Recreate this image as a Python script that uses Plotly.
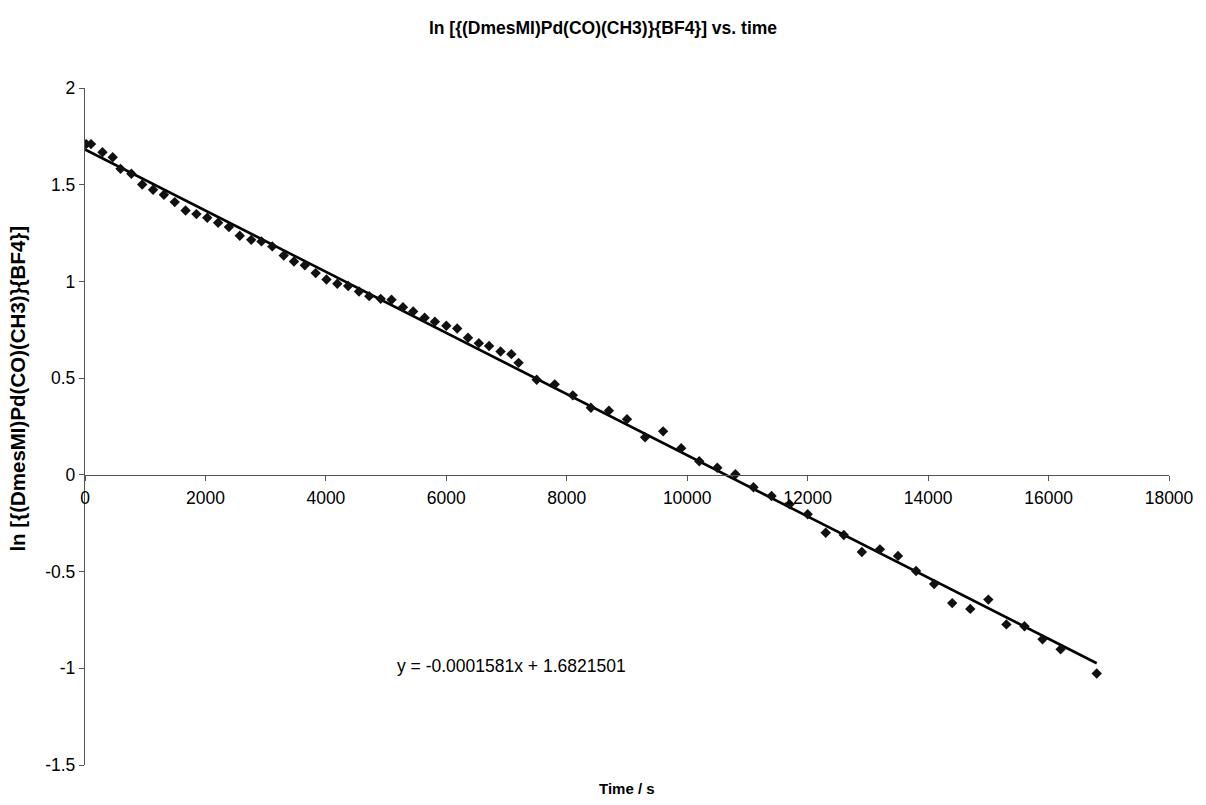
import plotly.graph_objects as go
import numpy as np

# ---- data ----
time_s = [20, 100, 290, 460, 590, 770, 950, 1130, 1310, 1490, 1670, 1850, 2030, 2210,
          2390, 2570, 2760, 2930, 3110, 3300, 3470, 3650, 3830, 4010, 4190, 4370, 4550,
          4720, 4910, 5090, 5280, 5450, 5640, 5810, 6000, 6180, 6360, 6540, 6710, 6900,
          7080, 7200, 7500, 7800, 8100, 8400, 8700, 9000, 9300, 9600, 9900, 10200, 10500,
          10800, 11100, 11400, 11700, 12000, 12300, 12600, 12900, 13200, 13500, 13800,
          14100, 14400, 14700, 15000, 15300, 15600, 15900, 16200, 16800]
ln_conc = [1.71, 1.71, 1.668, 1.642, 1.582, 1.557, 1.501, 1.474, 1.448, 1.41, 1.367, 1.348,
           1.329, 1.303, 1.281, 1.236, 1.215, 1.207, 1.181, 1.134, 1.103, 1.083, 1.043, 1.01,
           0.988, 0.976, 0.948, 0.924, 0.910, 0.905, 0.867, 0.845, 0.812, 0.792, 0.771, 0.757,
           0.709, 0.681, 0.666, 0.638, 0.624, 0.579, 0.492, 0.468, 0.411, 0.347, 0.332, 0.288,
           0.194, 0.225, 0.138, 0.070, 0.037, 0.003, -0.064, -0.109, -0.152, -0.204, -0.299,
           -0.311, -0.399, -0.385, -0.419, -0.497, -0.564, -0.663, -0.693, -0.645, -0.773,
           -0.783, -0.850, -0.902, -1.027]

fit_slope = -0.0001581
fit_intercept = 1.6821501

x_tick_vals = [0, 2000, 4000, 6000, 8000, 10000, 12000, 14000, 16000, 18000]
x_tick_text = ["0", "2000", "4000", "6000", "8000", "10000", "12000", "14000", "16000", "18000"]
y_tick_vals = [-1.5, -1, -0.5, 0, 0.5, 1, 1.5, 2]
y_tick_text = ["-1.5", "-1", "-0.5", "0", "0.5", "1", "1.5", "2"]

title_text = "ln [{(DmesMI)Pd(CO)(CH3)}{BF4}] vs. time"
y_title = "ln [{(DmesMI)Pd(CO)(CH3)}{BF4}]"
x_title = "Time / s"
eq_text = "y = -0.0001581x + 1.6821501"

FONT = "Liberation Sans, Arial, sans-serif"

fit_x = np.array([0, max(time_s)])
fit_y = fit_slope * fit_x + fit_intercept

fig = go.Figure()
fig.add_trace(go.Scatter(x=fit_x, y=fit_y, mode="lines",
                         line=dict(color="black", width=2.6), showlegend=False))
fig.add_trace(go.Scatter(x=time_s, y=ln_conc, mode="markers",
                         marker=dict(symbol="diamond", size=8, color="#111111",
                                     line=dict(width=0)), showlegend=False))

ymin, ymax = -1.5, 2.0
fig.update_layout(
    width=1206, height=805,
    margin=dict(l=85, r=28, t=88, b=40),
    paper_bgcolor="white", plot_bgcolor="white",
    font=dict(family=FONT, size=17.5, color="black"),
    xaxis=dict(range=[0, 18000], tickvals=x_tick_vals, ticktext=x_tick_text,
               showgrid=False, zeroline=False, showline=True, linecolor="#555555",
               linewidth=1.3, ticks="outside", ticklen=5, tickcolor="#555555",
               anchor="free", position=(0 - ymin) / (ymax - ymin),
               ticklabelstandoff=2, ticklabeloverflow="allow",
               tickfont=dict(size=17.5)),
    yaxis=dict(range=[ymin, ymax], tickvals=y_tick_vals, ticktext=y_tick_text,
               showgrid=False, zeroline=False, showline=True, linecolor="#555555",
               linewidth=1.3, ticks="outside", ticklen=5, tickcolor="#555555",
               tickfont=dict(size=17.5)),
    title=dict(text="<b>" + title_text + "</b>", x=0.5, xanchor="center",
               y=1 - 28 / 805, yanchor="middle", font=dict(size=17.5)),
    annotations=[
        dict(text="<b>" + x_title + "</b>", xref="paper", yref="paper", x=0.5, y=0,
             xanchor="center", yanchor="middle", yshift=-23,
             showarrow=False, font=dict(size=15)),
        dict(text="<b>" + y_title + "</b>", xref="paper", yref="paper", x=0, y=0.556,
             xanchor="center", yanchor="middle", xshift=-67, textangle=-90,
             showarrow=False, font=dict(size=20.5)),
        dict(text=eq_text, xref="x", yref="y", x=7080, y=-0.99, showarrow=False,
             xanchor="center", yanchor="middle", font=dict(size=17.5)),
    ],
)

fig.write_html("out.html", config={"displayModeBar": False},
               post_script="document.body.style.margin='0';")
